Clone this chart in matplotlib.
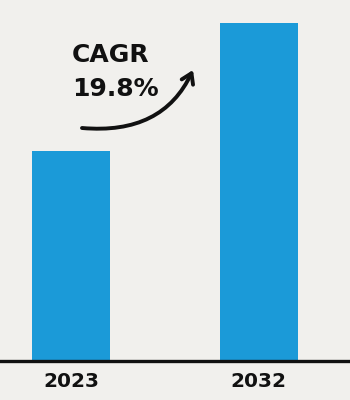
import matplotlib
matplotlib.use("Agg")
import matplotlib.pyplot as plt

categories = ["2023", "2032"]
values = [210, 338]
cagr_label = "CAGR\n19.8%"

bg = "#f1f0ed"
bar_color = "#1b9ad8"

fig = plt.figure(figsize=(3.5, 4.0), dpi=100)
fig.patch.set_facecolor(bg)
ax = fig.add_axes([0, 39/400, 1, 361/400])
ax.set_facecolor(bg)

x = list(range(len(categories)))
ax.bar(x, values, width=0.416, color=bar_color, zorder=2)
ax.set_xlim(-0.379, 1.488)
ax.set_ylim(0, 361)

for s in ["top", "right", "left"]:
    ax.spines[s].set_visible(False)
ax.spines["bottom"].set_linewidth(2.4)
ax.spines["bottom"].set_color("#111111")
ax.set_yticks([])
ax.set_xticks(x)
ax.set_xticklabels(categories, fontsize=14.5, fontweight="bold", color="#111111")
ax.tick_params(axis="x", length=0, pad=8)

fig.text(72/350, 1 - 43/400, cagr_label, ha="left", va="top", fontsize=18,
         fontweight="bold", color="#111111", linespacing=1.5)

ax.annotate("", xy=(193, 400 - 70), xycoords="figure pixels",
            xytext=(82, 400 - 128), textcoords="figure pixels",
            arrowprops=dict(arrowstyle="->,head_length=0.7,head_width=0.45",
                            connectionstyle="angle3,angleA=-5,angleB=65", lw=2.8,
                            color="#111111", shrinkA=0, shrinkB=0))

fig.savefig("out.png", dpi=100, facecolor=bg)
